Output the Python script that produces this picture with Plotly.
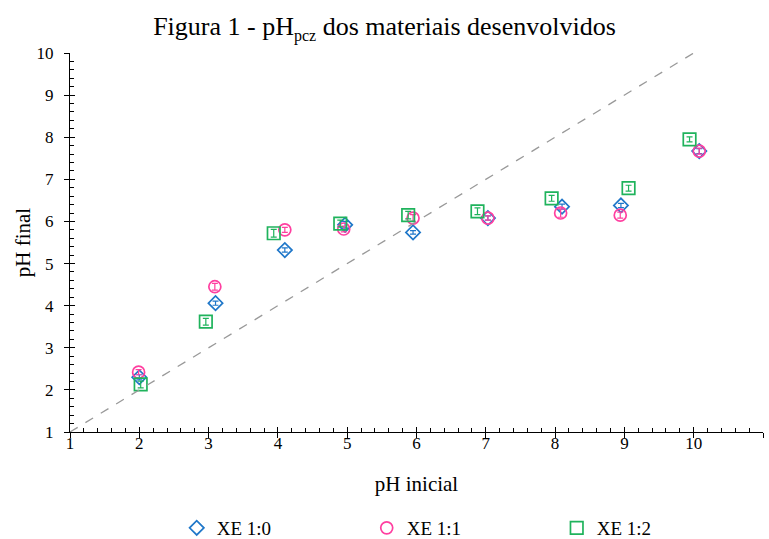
import plotly.graph_objects as go

# Initial pH and final pH for each material, with standard deviation
ph_inicial_xe10 = [2.00, 3.10, 4.10, 4.97, 5.95, 7.03, 8.10, 8.95, 10.08]
ph_final_xe10 = [2.30, 4.06, 5.32, 5.92, 5.74, 6.08, 6.35, 6.38, 7.67]
erro_xe10 = [0.06, 0.05, 0.05, 0.08, 0.04, 0.05, 0.06, 0.05, 0.06]

ph_inicial_xe11 = [1.99, 3.09, 4.10, 4.95, 5.95, 7.03, 8.08, 8.94, 10.08]
ph_final_xe11 = [2.42, 4.45, 5.80, 5.82, 6.08, 6.08, 6.20, 6.15, 7.67]
erro_xe11 = [0.06, 0.08, 0.06, 0.07, 0.08, 0.05, 0.10, 0.07, 0.07]

ph_inicial_xe12 = [2.02, 2.96, 3.94, 4.90, 5.88, 6.88, 7.95, 9.06, 9.94]
ph_final_xe12 = [2.13, 3.62, 5.72, 5.95, 6.15, 6.24, 6.55, 6.79, 7.95]
erro_xe12 = [0.08, 0.08, 0.09, 0.08, 0.09, 0.08, 0.07, 0.07, 0.06]

nomes = ["XE 1:0", "XE 1:1", "XE 1:2"]
cores = ["#1f77c9", "#ff3fa0", "#1fb35c"]
simbolos = ["diamond-open", "circle-open", "square-open"]
tamanhos = [11, 12, 12.5]

fonte = "Liberation Serif, Times New Roman, serif"

fig = go.Figure()

series = [
    (ph_inicial_xe10, ph_final_xe10, erro_xe10),
    (ph_inicial_xe11, ph_final_xe11, erro_xe11),
    (ph_inicial_xe12, ph_final_xe12, erro_xe12),
]
for (xs, ys, es), nome, cor, simb, tam in zip(series, nomes, cores, simbolos, tamanhos):
    fig.add_trace(go.Scatter(
        x=xs, y=ys, mode="markers", name=nome,
        marker=dict(symbol=simb, size=tam, color=cor, line=dict(width=1.7, color=cor)),
        error_y=dict(type="data", array=es, visible=True, color=cor, thickness=1.2, width=3),
    ))

# y = x reference line
fig.add_trace(go.Scatter(
    x=[1, 10], y=[1, 10], mode="lines", showlegend=False, hoverinfo="skip",
    line=dict(color="#999999", width=1.3, dash="dash"),
    xaxis="x2", yaxis="y2",
))

fonte_ticks = dict(family=fonte, size=17, color="black")
fonte_titulo_eixo = dict(family=fonte, size=21, color="black")

fig.update_layout(
    width=769, height=539,
    margin=dict(l=70, r=6, t=53, b=107, autoexpand=False),
    paper_bgcolor="white", plot_bgcolor="white",
    font=dict(family=fonte, color="black"),
    title=dict(
        text="Figura 1 - pH<sub><span style='font-size:16px'>pcz</span></sub> dos materiais desenvolvidos",
        x=0.5, xanchor="center", y=0.968, yanchor="top",
        font=dict(family=fonte, size=26, color="black"),
    ),
    # main axes: labels, axis lines, inward major and minor ticks
    xaxis=dict(
        range=[1, 11], tick0=1, dtick=1, automargin=False,
        showgrid=False, zeroline=False, showline=True, linecolor="black", linewidth=1.3,
        tickfont=fonte_ticks, ticklabelstandoff=-5,
        ticks="inside", ticklen=5, tickwidth=1.3, tickcolor="black",
        minor=dict(ticks="inside", ticklen=4, tickwidth=1, tickcolor="black", dtick=0.2, showgrid=False),
        title=dict(text="pH inicial", font=fonte_titulo_eixo, standoff=24),
    ),
    yaxis=dict(
        range=[1, 10], tick0=1, dtick=1, automargin=False,
        showgrid=False, zeroline=False, showline=True, linecolor="black", linewidth=1.3,
        tickfont=fonte_ticks, ticklabelstandoff=12,
        ticks="inside", ticklen=5, tickwidth=1.3, tickcolor="black",
        minor=dict(ticks="inside", ticklen=4, tickwidth=1, tickcolor="black", dtick=0.2, showgrid=False),
        title=dict(text="pH final", font=fonte_titulo_eixo, standoff=0),
    ),
    # overlaid axes give the major ticks their outward half
    xaxis2=dict(
        range=[1, 11], overlaying="x", anchor="y2", side="bottom",
        showgrid=False, zeroline=False, showline=False, showticklabels=False,
        ticks="outside", ticklen=5, tickwidth=1.3, tickcolor="black", dtick=1, tick0=1,
    ),
    yaxis2=dict(
        range=[1, 10], overlaying="y", anchor="x2", side="left",
        showgrid=False, zeroline=False, showline=False, showticklabels=False,
        ticks="outside", ticklen=5, tickwidth=1.3, tickcolor="black", dtick=1, tick0=1,
    ),
    legend=dict(
        orientation="h", x=0.154, xanchor="left", y=-0.203, yanchor="top",
        font=dict(family=fonte, size=19, color="black"),
        entrywidth=145, entrywidthmode="pixels", itemwidth=30,
        bgcolor="rgba(0,0,0,0)",
    ),
)

fig.write_html("out.html")
